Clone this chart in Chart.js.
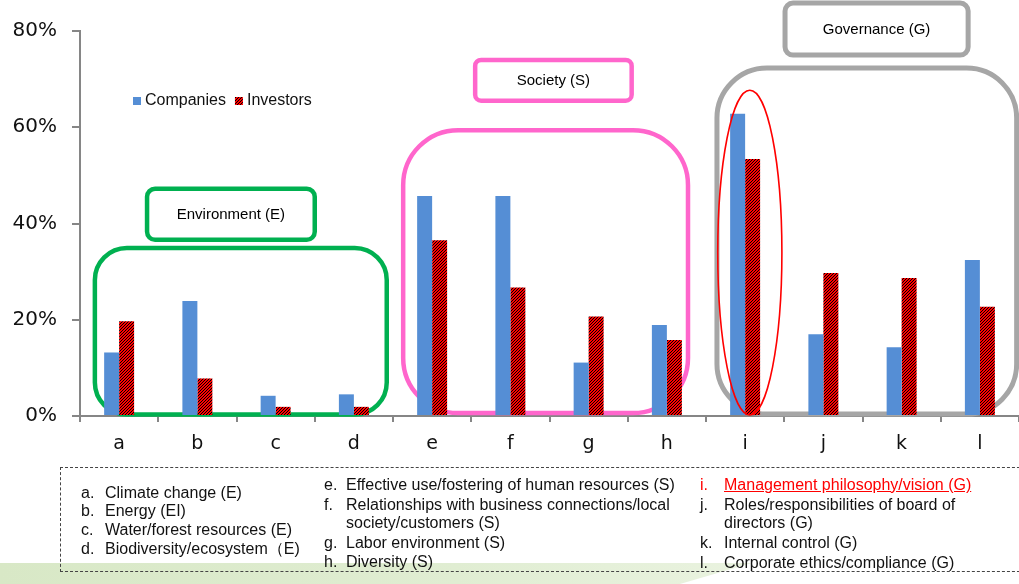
<!DOCTYPE html>
<html>
<head>
<meta charset="utf-8">
<script src="https://cdn.jsdelivr.net/npm/chart.js@4/dist/chart.umd.min.js"></script>
<style>
  html, body { margin: 0; padding: 0; background: #fff; }
  #wrap { position: relative; width: 1019px; height: 584px; overflow: hidden; }
  #strip {
    position: absolute; left: 0; top: 563px; width: 760px; height: 21px;
    background: linear-gradient(to right, #d8e8c6, #e0edd2 60%, #eaf3e0);
    clip-path: polygon(0 0, 752px 0, 680px 21px, 0 21px);
  }
  #chart { position: absolute; left: 0; top: 0; }
  #notes {
    position: absolute; left: 60px; top: 467px; width: 980px; height: 105px;
    border-top: 1px dashed #444; border-bottom: 1px dashed #444; border-left: 1px dashed #444;
    box-sizing: border-box;
  }
  .note {
    position: absolute; font-family: "Liberation Sans", Arial, sans-serif;
    font-size: 16px; line-height: 18px; color: #111; white-space: nowrap;
  }
  .red { color: #ff0000; text-decoration: underline; }
</style>
</head>
<body>
<div id="wrap">
  <div id="strip"></div>
  <canvas id="chart" width="1019" height="584"></canvas>
  <div id="notes"></div>
</div>
<script>
// Categories and shares of respondents (%)
const categories = ['a', 'b', 'c', 'd', 'e', 'f', 'g', 'h', 'i', 'j', 'k', 'l'];
const companies  = [13.2, 23.9, 4.2, 4.5, 45.7, 45.7, 11.1, 18.9, 62.8, 17.0, 14.3, 32.4];
const investors  = [19.7, 7.8, 1.9, 1.9, 36.5, 26.7, 20.7, 15.8, 53.4, 29.7, 28.7, 22.7];
const seriesNames = ['Companies', 'Investors'];
const yTickValues = [0, 20, 40, 60, 80];

// Footnote entries
const noteMarkers = ['a.', 'b.', 'c.', 'd.', 'e.', 'f.', '', 'g.', 'h.', 'i.', 'j.', '', 'k.', 'l.'];
const noteTexts = [
  'Climate change (E)', 'Energy (EI)', 'Water/forest resources (E)', 'Biodiversity/ecosystem\uFF08E)',
  'Effective use/fostering of human resources (S)', 'Relationships with business connections/local',
  'society/customers (S)', 'Labor environment (S)', 'Diversity (S)',
  'Management philosophy/vision (G)', 'Roles/responsibilities of board of', 'directors (G)',
  'Internal control (G)', 'Corporate ethics/compliance (G)'
];

// ---- footnote layout: marker x, text x, line centre y ----
const noteLayout = [
  [80, 104, 492], [80, 104, 510], [80, 104, 529], [80, 104, 548],
  [323, 345, 484], [323, 345, 504], [323, 345, 522], [323, 345, 542], [323, 345, 561],
  [699, 723, 484], [699, 723, 504], [699, 723, 522], [699, 723, 542], [699, 723, 562]
];
const notes = document.getElementById('notes');
noteTexts.forEach((txt, i) => {
  const [mx, tx, cy] = noteLayout[i];
  if (noteMarkers[i]) {
    const m = document.createElement('div');
    m.className = 'note';
    if (i === 9) m.style.color = '#ff0000';
    m.style.left = (mx - 60) + 'px';
    m.style.top = (cy - 9 - 467) + 'px';
    m.textContent = noteMarkers[i];
    notes.appendChild(m);
  }
  const t = document.createElement('div');
  t.className = i === 9 ? 'note red' : 'note';
  t.style.left = (tx - 60) + 'px';
  t.style.top = (cy - 9 - 467) + 'px';
  t.textContent = txt;
  notes.appendChild(t);
});

// ---- hatched red fill (upward diagonal) ----
function hatchPattern() {
  const n = 3;
  const c = document.createElement('canvas');
  c.width = n; c.height = n;
  const g = c.getContext('2d');
  g.fillStyle = '#ff0000';
  g.fillRect(0, 0, n, n);
  g.fillStyle = '#000000';
  for (let i = 0; i < n; i++) g.fillRect(n - 1 - i, i, 1, 1);
  return g.createPattern(c, 'repeat');
}
const ctx = document.getElementById('chart').getContext('2d');
const hatch = hatchPattern();
const blue = '#558ed5';

// ---- group frames (category-index / value units) ----
const groups = [
  { name: 'Environment (E)', color: '#00b050', width: 4.5, radius: 32,
    box: [-0.31, 3.42, 34.9, 0.3], tag: [0.357, 2.5, 47.2, 36.6], tagRadius: 8 },
  { name: 'Society (S)', color: '#ff66cc', width: 4.5, radius: 55,
    box: [3.63, 7.27, 59.4, 0.6], tag: [4.55, 6.55, 74.0, 65.5], tagRadius: 6 },
  { name: 'Governance (G)', color: '#a6a6a6', width: 5, radius: 50,
    box: [7.64, 11.47, 72.3, 0.4], tag: [8.51, 10.85, 85.8, 75.0], tagRadius: 8 }
];
const focus = { cx: 8.06, rx: 0.41, top: 67.7, bottom: 0.2, color: '#ff0000' };

function catX(xs, idx) {
  const p0 = xs.getPixelForValue(0), p1 = xs.getPixelForValue(1);
  return p0 + (p1 - p0) * idx;
}
function rrect(c, x0, y0, x1, y1, r) {
  c.beginPath();
  c.moveTo(x0 + r, y0);
  c.arcTo(x1, y0, x1, y1, r);
  c.arcTo(x1, y1, x0, y1, r);
  c.arcTo(x0, y1, x0, y0, r);
  c.arcTo(x0, y0, x1, y0, r);
  c.closePath();
}

const framesPlugin = {
  id: 'frames',
  beforeDatasetsDraw(chart) {
    const c = chart.ctx, xs = chart.scales.x, ys = chart.scales.y;
    c.save();
    groups.forEach(g => {
      c.strokeStyle = g.color;
      c.lineWidth = g.width;
      const [l, r, t, b] = g.box;
      rrect(c, catX(xs, l), ys.getPixelForValue(t), catX(xs, r), ys.getPixelForValue(b), g.radius);
      c.stroke();
      const [tl, tr, tt, tb] = g.tag;
      const x0 = catX(xs, tl), x1 = catX(xs, tr), y0 = ys.getPixelForValue(tt), y1 = ys.getPixelForValue(tb);
      rrect(c, x0, y0, x1, y1, g.tagRadius);
      c.fillStyle = '#fff';
      c.fill();
      c.stroke();
      c.fillStyle = '#000';
      c.font = '15px "Liberation Sans", Arial, sans-serif';
      c.textAlign = 'center';
      c.textBaseline = 'middle';
      c.fillText(g.name, (x0 + x1) / 2, (y0 + y1) / 2 + 1);
    });
    c.restore();
  },
  afterDatasetsDraw(chart) {
    const c = chart.ctx, xs = chart.scales.x, ys = chart.scales.y;
    const cx = catX(xs, focus.cx);
    const rx = catX(xs, focus.rx) - catX(xs, 0);
    const yt = ys.getPixelForValue(focus.top), yb = ys.getPixelForValue(focus.bottom);
    c.save();
    c.strokeStyle = focus.color;
    c.lineWidth = 1.6;
    c.beginPath();
    c.ellipse(cx, (yt + yb) / 2, rx, (yb - yt) / 2, 0, 0, Math.PI * 2);
    c.stroke();

    // legend inside the plot
    c.font = '16px "Liberation Sans", Arial, sans-serif';
    c.textBaseline = 'middle';
    c.textAlign = 'left';
    const ly = 101;
    let x = 133;
    chart.data.datasets.forEach(ds => {
      c.fillStyle = ds.backgroundColor;
      c.fillRect(x, ly - 4, 8, 8);
      c.fillStyle = '#111';
      c.fillText(ds.label, x + 12, ly);
      x += 12 + c.measureText(ds.label).width + 9;
    });
    c.restore();
  }
};

new Chart(ctx, {
  type: 'bar',
  data: {
    labels: categories,
    datasets: [
      { label: seriesNames[0], data: companies, backgroundColor: blue },
      { label: seriesNames[1], data: investors, backgroundColor: hatch }
    ]
  },
  options: {
    responsive: false,
    animation: false,
    devicePixelRatio: 1,
    categoryPercentage: 0.383,
    barPercentage: 1,
    layout: { padding: { top: 31, left: 0, right: 0, bottom: 122 } },
    plugins: { legend: { display: false }, tooltip: { enabled: false } },
    scales: {
      x: {
        afterFit(s) { s.height = 46; },
        grid: { offset: true, drawOnChartArea: false, tickLength: 6, color: '#868686', lineWidth: 2 },
        border: { color: '#868686', width: 2 },
        ticks: { font: { family: '"DejaVu Sans", Verdana, sans-serif', size: 19 }, color: '#111', padding: 11 }
      },
      y: {
        min: 0, max: 80,
        afterFit(s) { s.width = 80; },
        afterBuildTicks(s) { s.ticks = yTickValues.map(v => ({ value: v })); },
        grid: { drawOnChartArea: false, tickLength: 8, color: '#868686', lineWidth: 2 },
        border: { color: '#868686', width: 2 },
        ticks: {
          font: { family: '"DejaVu Sans", Verdana, sans-serif', size: 20 }, color: '#111', padding: 15,
          callback: v => v + '%'
        }
      }
    }
  },
  plugins: [framesPlugin]
});
</script>
</body>
</html>
